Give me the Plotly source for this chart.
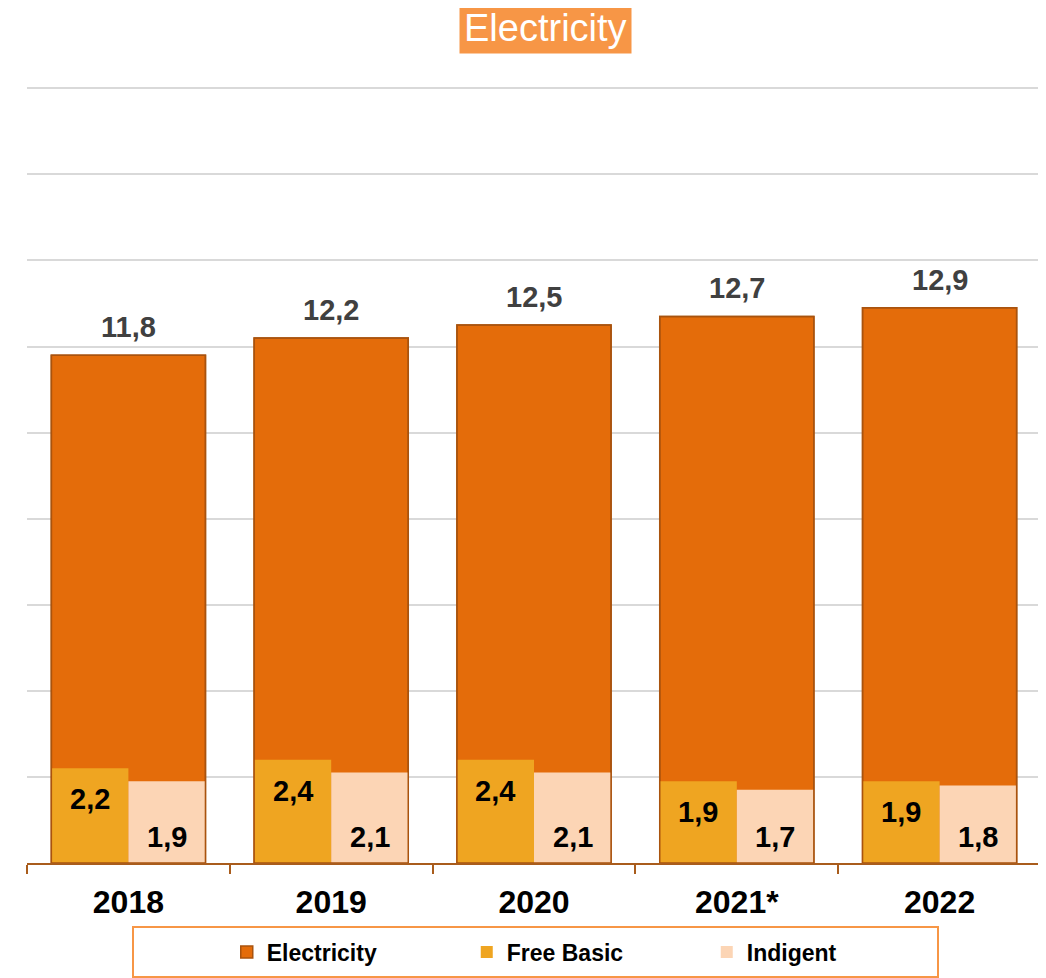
import plotly.graph_objects as go

years = ["2018", "2019", "2020", "2021*", "2022"]
electricity = [11.8, 12.2, 12.5, 12.7, 12.9]
free_basic = [2.2, 2.4, 2.4, 1.9, 1.9]
indigent = [1.9, 2.1, 2.1, 1.7, 1.8]

C_ELEC = "#E46C0A"
C_FREE = "#EFA521"
C_IND = "#FCD5B5"
C_EDGE = "#A9530E"
C_AXIS = "#A95C1C"
FONT = "Liberation Sans, Arial, sans-serif"

fig = go.Figure()
fig.add_trace(go.Bar(
    name="Electricity", x=years, y=electricity, width=0.76, offset=-0.38,
    marker=dict(color=C_ELEC, line=dict(color=C_EDGE, width=1.5)),
))
fig.add_trace(go.Bar(
    name="Free Basic", x=years, y=free_basic, width=0.38, offset=-0.38,
    marker=dict(color=C_FREE, line=dict(width=0)),
))
fig.add_trace(go.Bar(
    name="Indigent", x=years, y=indigent, width=0.38, offset=0.0,
    marker=dict(color=C_IND, line=dict(width=0)),
))
# outline of the electricity bars drawn on top
fig.add_trace(go.Bar(
    name="Electricity", x=years, y=electricity, width=0.76, offset=-0.38,
    marker=dict(color="rgba(0,0,0,0)", line=dict(color=C_EDGE, width=1.5)),
    showlegend=False, hoverinfo="skip",
))

annotations = []
fmt = lambda v: f"{v:.1f}".replace(".", ",")
for i, (e, f, d) in enumerate(zip(electricity, free_basic, indigent)):
    annotations.append(dict(x=i, y=e, xref="x", yref="y", text=fmt(e), showarrow=False,
                            yanchor="bottom", yshift=10,
                            font=dict(family=FONT, size=29, color="#404040", weight="bold")))
    annotations.append(dict(x=i - 0.19, y=f, xref="x", yref="y", text=fmt(f), showarrow=False,
                            yanchor="top", yshift=-13,
                            font=dict(family=FONT, size=29, color="#000000", weight="bold")))
    annotations.append(dict(x=i + 0.19, y=0, xref="x", yref="y", text=fmt(d), showarrow=False,
                            yanchor="bottom", yshift=8,
                            font=dict(family=FONT, size=29, color="#000000", weight="bold")))

annotations.append(dict(x=0.511, y=1.0719, xref="paper", yref="paper", text="Electricity",
                        showarrow=False, xanchor="center", yanchor="middle",
                        bgcolor="#F79646", borderpad=4,
                        font=dict(family=FONT, size=38, color="#FFFFFF")))

fig.update_layout(
    width=1046, height=978,
    margin=dict(l=19, r=13, t=76, b=123, autoexpand=False),
    barmode="overlay",
    paper_bgcolor="white", plot_bgcolor="white",
    showlegend=True,
    legend=dict(orientation="h", x=0.197, xanchor="left", y=-0.1142, yanchor="middle",
                entrywidth=195, entrywidthmode="pixels",
                font=dict(family=FONT, size=23, color="#000000", weight="bold"),
                bgcolor="rgba(0,0,0,0)", borderwidth=0),
    annotations=annotations,
    shapes=[dict(type="rect", xref="paper", yref="paper",
                 x0=(133 - 27) / 1014, x1=(938 - 27) / 1014,
                 y0=-0.1463, y1=-0.0822,
                 line=dict(color="#F79646", width=2), fillcolor="rgba(0,0,0,0)", layer="below")],
    xaxis=dict(type="category", tickson="boundaries", ticks="outside", ticklen=9,
               tickcolor=C_AXIS, tickwidth=1.5, showline=True, linecolor=C_AXIS, linewidth=2,
               showgrid=False, range=[-0.5, 4.5], automargin=False, ticklabelstandoff=10,
               tickfont=dict(family=FONT, size=32, color="#000000", weight="bold")),
    yaxis=dict(range=[0, 18.1], dtick=2, showgrid=True, gridcolor="#D9D9D9", gridwidth=2,
               showticklabels=False, zeroline=False, showline=False, ticks="", automargin=False),
)

fig.write_html("out.html")
